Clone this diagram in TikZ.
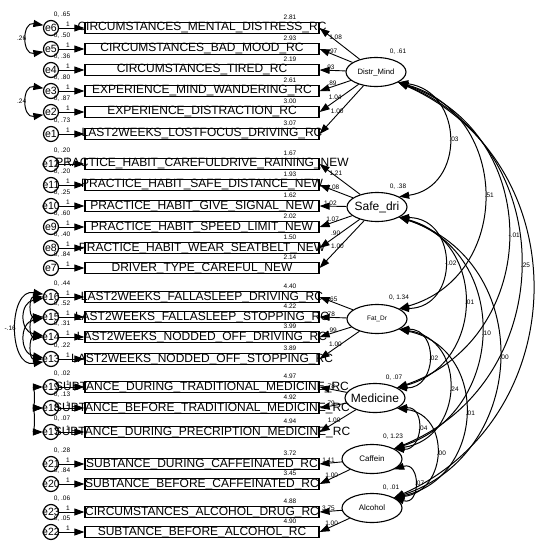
\documentclass[tikz,border=0pt]{standalone}
\usepackage{fontspec}
\setmainfont{Liberation Sans}
\usetikzlibrary{shapes.geometric,arrows.meta}
\tikzset{
  box/.style={draw, line width=1.2pt, minimum width=234pt, minimum height=11pt, inner sep=0pt},
  btxt/.style={font=\fontsize{12}{12}\selectfont, inner sep=0pt},
  lat/.style={draw, ellipse, line width=1.1pt, minimum width=60pt, minimum height=29pt, inner sep=0pt},
  err/.style={draw, circle, line width=1.2pt, minimum size=15pt, inner sep=0pt},
  etxt/.style={font=\fontsize{10.5}{10}\selectfont, inner sep=0pt},
  sm/.style={font=\fontsize{6.5}{7}\selectfont, inner sep=0.5pt},
  arr/.style={-{Triangle[length=10pt,width=7pt]}, line width=0.9pt},
  cov/.style={{Triangle[length=10pt,width=7pt]}-{Triangle[length=10pt,width=7pt]}, line width=1pt},
}
\begin{document}
\begin{tikzpicture}[x=1pt,y=1pt]
\useasboundingbox (0,0) rectangle (536,-541);
\fill[white] (0,0) rectangle (536,-541);
% latent variables
\node[lat] (dm) at (376,-72) {};
\node[font=\fontsize{7.7}{8}\selectfont] at (dm) {Distr\_Mind};
\node[lat] (sd) at (377,-207) {};
\node[font=\fontsize{12}{12}\selectfont] at (sd) {Safe\_dri};
\node[lat] (fd) at (377,-319) {};
\node[font=\fontsize{6.5}{7}\selectfont] at (fd) {Fat\_Dr};
\node[lat] (md) at (375,-398) {};
\node[font=\fontsize{12}{12}\selectfont] at (md) {Medicine};
\node[lat] (cf) at (372,-459) {};
\node[font=\fontsize{8}{8}\selectfont] at (cf) {Caffein};
\node[lat] (al) at (372,-508) {};
\node[font=\fontsize{8}{8}\selectfont] at (al) {Alcohol};
\node[sm] at (398,-52) {0, .61};
\node[sm] at (398,-187) {0, .38};
\node[sm] at (399,-298) {0, 1.34};
\node[sm] at (394,-378) {0, .07};
\node[sm] at (393,-437) {0, 1.23};
\node[sm] at (391,-488) {0, .01};
% observed variables
\foreach \i/\y/\txt/\e/\ev/\ic in {
 1/28/CIRCUMSTANCES\_MENTAL\_DISTRESS\_RC/e6/.65/2.81,
 2/49/CIRCUMSTANCES\_BAD\_MOOD\_RC/e5/.50/2.93,
 3/70/CIRCUMSTANCES\_TIRED\_RC/e4/.36/2.19,
 4/91/EXPERIENCE\_MIND\_WANDERING\_RC/e3/.80/2.61,
 5/112/EXPERIENCE\_DISTRACTION\_RC/e2/.87/3.00,
 6/134/LAST2WEEKS\_LOSTFOCUS\_DRIVING\_RC/e1/.73/3.07,
 7/164/PRACTICE\_HABIT\_CAREFULDRIVE\_RAINING\_NEW/e12/.20/1.67,
 8/185/PRACTICE\_HABIT\_SAFE\_DISTANCE\_NEW/e11/.20/1.93,
 9/206/PRACTICE\_HABIT\_GIVE\_SIGNAL\_NEW/e10/.25/1.62,
 10/227/PRACTICE\_HABIT\_SPEED\_LIMIT\_NEW/e9/.60/2.02,
 11/248/PRACTICE\_HABIT\_WEAR\_SEATBELT\_NEW/e8/.40/1.50,
 12/268/DRIVER\_TYPE\_CAREFUL\_NEW/e7/.84/2.14,
 13/297/LAST2WEEKS\_FALLASLEEP\_DRIVING\_RC/e16/.44/4.40,
 14/317/LAST2WEEKS\_FALLASLEEP\_STOPPING\_RC/e15/.52/4.22,
 15/337/LAST2WEEKS\_NODDED\_OFF\_DRIVING\_RC/e14/.31/3.99,
 16/359/LAST2WEEKS\_NODDED\_OFF\_STOPPING\_RC/e13/.22/3.89,
 17/387/SUBTANCE\_DURING\_TRADITIONAL\_MEDICINE\_RC/e19/.02/4.97,
 18/408/SUBTANCE\_BEFORE\_TRADITIONAL\_MEDICINE\_RC/e18/.13/4.92,
 19/432/SUBTANCE\_DURING\_PRECRIPTION\_MEDICINE\_RC/e17/.07/4.94,
 20/464/SUBTANCE\_DURING\_CAFFEINATED\_RC/e21/.28/3.72,
 21/484/SUBTANCE\_BEFORE\_CAFFEINATED\_RC/e20/.84/3.45,
 22/512/CIRCUMSTANCES\_ALCOHOL\_DRUG\_RC/e23/.06/4.88,
 23/532/SUBTANCE\_BEFORE\_ALCOHOL\_RC/e22/.05/4.90}{
  \node[box] (b\i) at (202,-\y) {};
  \node[btxt] at (b\i) {\txt};
  \node[err] (r\i) at (51,-\y) {};
  \node[etxt] at (r\i) {\e};
  \draw[arr] (r\i) -- (b\i.west);
  \node[sm] at (62,-\y+13) {0, \ev};
  \node[sm] at (290,-\y+11) {\ic};
  \node[sm] at (68,-\y+4) {1};
}
% loadings
\foreach \i/\lv/\lab in {1/dm/1.08, 2/dm/.97, 3/dm/.93, 4/dm/.89, 5/dm/1.04, 6/dm/1.00,
  7/sd/1.21, 8/sd/1.08, 9/sd/1.02, 10/sd/1.07, 11/sd/.90, 12/sd/1.00,
  13/fd/.65, 14/fd/.78, 15/fd/.99, 16/fd/1.00,
  17/md/.78, 18/md/.79, 19/md/1.00,
  20/cf/1.11, 21/cf/1.00,
  22/al/3.75, 23/al/1.00}{
  \draw[arr] (\lv) -- (b\i.east) node[sm, pos=0.6, above] {\lab};
}
% factor covariances
\draw[cov] (dm.-25) to[out=-8,in=8,distance=67] node[sm,pos=0.5,anchor=west] {.03} (sd.25);
\draw[cov] (dm.-25) to[out=-16,in=16,distance=118] node[sm,pos=0.5,anchor=west] {.51} (fd.25);
\draw[cov] (dm.-25) to[out=-19,in=19,distance=155] node[sm,pos=0.5,anchor=west] {-.01} (md.25);
\draw[cov] (dm.-25) to[out=-22,in=22,distance=178] node[sm,pos=0.5,anchor=west] {.25} (cf.25);
\draw[cov] (dm.-25) to[out=-24,in=24,distance=198] (al.25);
\draw[cov] (sd.-25) to[out=-1,in=1,distance=60] node[sm,pos=0.5,anchor=west] {-.02} (fd.25);
\draw[cov] (sd.-25) to[out=-15,in=15,distance=91] node[sm,pos=0.5,anchor=west] {.01} (md.25);
\draw[cov] (sd.-25) to[out=-18,in=18,distance=118] node[sm,pos=0.5,anchor=west] {.10} (cf.25);
\draw[cov] (sd.-25) to[out=-18,in=18,distance=143] node[sm,pos=0.5,anchor=west] {.00} (al.25);
\draw[cov] (fd.-25) to[out=1,in=-1,distance=40] node[sm,pos=0.5,anchor=west] {.02} (md.25);
\draw[cov] (fd.-25) to[out=-8,in=8,distance=70] node[sm,pos=0.5,anchor=west] {.24} (cf.25);
\draw[cov] (fd.-25) to[out=-12,in=12,distance=93] node[sm,pos=0.5,anchor=west] {.01} (al.25);
\draw[cov] (md.-25) to[out=4,in=-4,distance=29] node[sm,pos=0.5,anchor=west] {.04} (cf.25);
\draw[cov] (md.-25) to[out=-7,in=7,distance=54] node[sm,pos=0.5,anchor=west] {.00} (al.25);
\draw[cov] (cf.-25) to[out=18,in=-18,distance=28] node[sm,pos=0.5,anchor=west] {.07} (al.25);
% error covariances
\draw[cov] (r1.160) to[out=170,in=190,distance=22] node[sm,pos=0.5,anchor=east] {.26} (r2.200);
\draw[cov] (r4.160) to[out=170,in=190,distance=22] node[sm,pos=0.5,anchor=east] {.24} (r5.200);
\draw[cov] (r13.160) to[out=170,in=190,distance=36] node[sm,pos=0.5,anchor=east] {-.16} (r16.200);
\draw[cov] (r13.180) to[out=180,in=180,distance=14] (r14.180);
\draw[cov] (r14.180) to[out=180,in=180,distance=14] (r15.180);
\draw[cov] (r15.180) to[out=180,in=180,distance=14] (r16.180);
\draw[cov] (r13.190) to[out=190,in=170,distance=24] (r15.170);
\draw[cov] (r14.190) to[out=190,in=170,distance=24] (r16.170);
\draw[cov] (r17.180) to[out=180,in=180,distance=8] (r18.180);
\draw[cov] (r18.180) to[out=180,in=180,distance=8] (r19.180);
\end{tikzpicture}
\end{document}
